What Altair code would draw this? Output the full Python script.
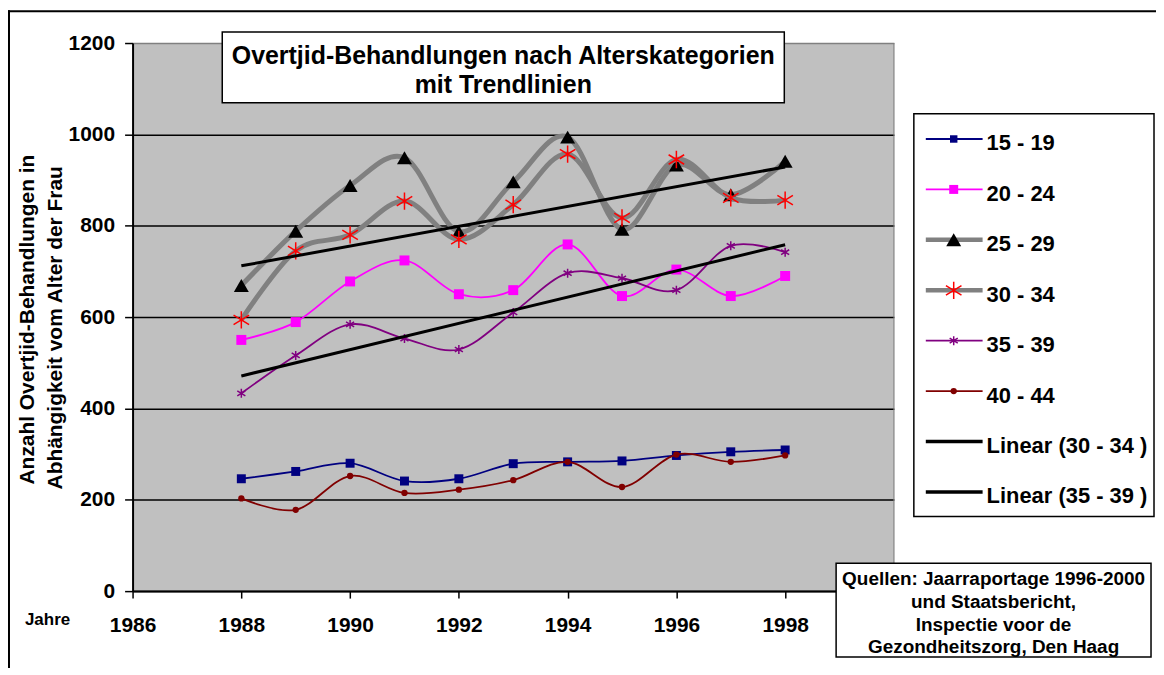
import altair as alt
import pandas as pd

# ---------------- data ----------------
years = [1988, 1989, 1990, 1991, 1992, 1993, 1994, 1995, 1996, 1997, 1998]
s15_19 = [246, 262, 280, 241, 246, 279, 283, 285, 297, 305, 309]
s20_24 = [550, 589, 678, 724, 650, 659, 759, 646, 704, 646, 690]
s25_29 = [669, 788, 888, 949, 787, 896, 994, 792, 933, 868, 941]
s30_34 = [594, 745, 780, 854, 770, 846, 957, 817, 945, 861, 856]
s35_39 = [433, 516, 584, 553, 529, 610, 696, 685, 659, 756, 742]
s40_44 = [203, 178, 252, 215, 222, 243, 283, 228, 299, 283, 297]

series_names = ["15 - 19", "20 - 24", "25 - 29", "30 - 34", "35 - 39", "40 - 44"]
series_values = [s15_19, s20_24, s25_29, s30_34, s35_39, s40_44]
trend_series = ["30 - 34", "35 - 39"]
trend_names = ["Linear (30 - 34 )", "Linear (35 - 39 )"]

x_ticks = [1986, 1988, 1990, 1992, 1994, 1996, 1998]
y_ticks = [0, 200, 400, 600, 800, 1000, 1200]

title_lines = ["Overtjid-Behandlungen nach Alterskategorien", "mit Trendlinien"]
y_title_lines = ["Anzahl Overtjid-Behandlungen in", "Abhängigkeit vom Alter der Frau"]
x_title = "Jahre"
source_lines = ["Quellen: Jaarraportage 1996-2000", "und Staatsbericht,",
                "Inspectie voor de", "Gezondheitszorg, Den Haag"]

rows = []
for name, vals in zip(series_names, series_values):
    for yr, v in zip(years, vals):
        rows.append({"series": name, "year": yr, "value": v})
df = pd.DataFrame(rows)

# ---------------- styles ----------------
F = "Liberation Sans, Arial, Helvetica, sans-serif"
STAR = "M-0.9,-0.55L0.9,0.55M-0.9,0.55L0.9,-0.55M0,-1L0,1"
styles = {
    "15 - 19": dict(line="#000080", lw=1.8, shape="square", size=81, lsize=56, filled=True, mcolor="#000080"),
    "20 - 24": dict(line="#FF00FF", lw=1.8, shape="square", size=100, lsize=81, filled=True, mcolor="#FF00FF"),
    "25 - 29": dict(line="#808080", lw=5, shape="triangle-up", size=225, lsize=225, filled=True, mcolor="black"),
    "30 - 34": dict(line="#808080", lw=5, shape=STAR, size=300, lsize=300, filled=False, mcolor="#FF0000"),
    "35 - 39": dict(line="#800080", lw=1.8, shape=STAR, size=81, lsize=81, filled=False, mcolor="#800080"),
    "40 - 44": dict(line="#800000", lw=1.8, shape="circle", size=40, lsize=40, filled=True, mcolor="#800000"),
}

xscale = alt.Scale(domain=[1986, 2000], nice=False, zero=False)
yscale = alt.Scale(domain=[0, 1200], nice=False)

x_axis = alt.Axis(values=x_ticks, title=None, grid=False, format="d",
                  domainColor="black", domainWidth=2, tickColor="black",
                  tickSize=7, tickWidth=1.5, labelFont=F, labelFontSize=21,
                  labelFontWeight="bold", labelColor="black", labelPadding=17,
                  labelFlush=False, labelOverlap=False)
y_axis = alt.Axis(values=y_ticks, title=None, grid=True, format="d",
                  gridColor={"condition": {"test": "datum.value === 1200", "value": "#808080"},
                             "value": "black"},
                  gridWidth=1.5, domainColor="black", domainWidth=2,
                  tickColor="black", tickSize=8, tickWidth=1.5, labelFont=F,
                  labelFontSize=21, labelFontWeight="bold", labelColor="black",
                  labelPadding=10, labelOverlap=False)

X = alt.X("year:Q", scale=xscale, axis=x_axis)
Y = alt.Y("value:Q", scale=yscale, axis=y_axis)

base = alt.Chart(df)
data_layers = []
# right border of plot area (gray)
data_layers.append(
    alt.Chart(pd.DataFrame({"year": [2000]})).mark_rule(color="#808080", strokeWidth=1)
    .encode(x=alt.X("year:Q", scale=xscale, axis=x_axis))
)
for name in series_names:
    st = styles[name]
    sub = base.transform_filter(alt.datum.series == name)
    data_layers.append(
        sub.mark_line(interpolate="cardinal", color=st["line"], strokeWidth=st["lw"])
        .encode(x=X, y=Y)
    )
    data_layers.append(
        sub.mark_point(shape=st["shape"], size=st["size"], filled=st["filled"],
                       color=st["mcolor"], opacity=1, strokeWidth=1.5)
        .encode(x=X, y=Y)
    )
for name in trend_series:
    data_layers.append(
        base.transform_filter(alt.datum.series == name)
        .transform_regression("year", "value", method="linear", extent=[1988, 1998])
        .mark_line(color="black", strokeWidth=3)
        .encode(x=X, y=Y)
    )

data_group = alt.layer(*data_layers)

# ---------------- decorations ----------------
one = alt.Chart(pd.DataFrame({"k": [0]}))
deco = []
# outer frame: left and top edges
deco.append(one.mark_rule(color="black", strokeWidth=2).encode(
    x=alt.value(-125), x2=alt.value(1027), y=alt.value(-32)))
deco.append(one.mark_rule(color="black", strokeWidth=2).encode(
    x=alt.value(-124), y=alt.value(-33), y2=alt.value(700)))
# title box
deco.append(one.mark_rect(fill="white", stroke="black", strokeWidth=1.5).encode(
    x=alt.value(90), x2=alt.value(654), y=alt.value(-11), y2=alt.value(60)))
for t, yy in zip(title_lines, [21, 50]):
    deco.append(one.mark_text(font=F, fontSize=25, fontWeight="bold", color="black",
                              align="center", baseline="alphabetic").encode(
        x=alt.value(372), y=alt.value(yy), text=alt.value(t)))
# y title (rotated, two lines)
for t, xx, yy in zip(y_title_lines, [-99, -71], [443, 448]):
    deco.append(one.mark_text(font=F, fontSize=21, fontWeight="bold", color="black",
                              align="left", baseline="alphabetic", angle=270).encode(
        x=alt.value(xx), y=alt.value(yy), text=alt.value(t)))
# x title
deco.append(one.mark_text(font=F, fontSize=17, fontWeight="bold", color="black",
                          align="left", baseline="alphabetic").encode(
    x=alt.value(-108), y=alt.value(584), text=alt.value(x_title)))
# source box
deco.append(one.mark_rect(fill="white", stroke="black", strokeWidth=1.5).encode(
    x=alt.value(706), x2=alt.value(1022), y=alt.value(522), y2=alt.value(616)))
for t, yy in zip(source_lines, [544, 567, 590, 612]):
    deco.append(one.mark_text(font=F, fontSize=19, fontWeight="bold", color="black",
                              align="center", baseline="alphabetic").encode(
        x=alt.value(864), y=alt.value(yy), text=alt.value(t)))

# legend
legend_labels = series_names + trend_names
legend_df = pd.DataFrame({"label": legend_labels, "row": list(range(len(legend_labels)))})
lg = alt.Chart(legend_df)
RY = alt.Y("row:Q", scale=alt.Scale(domain=[0, 7], range=[96.3, 450.5]), axis=None)
deco.append(one.mark_rect(fill="white", stroke="black", strokeWidth=1.5).encode(
    x=alt.value(784), x2=alt.value(1025), y=alt.value(71), y2=alt.value(475)))
for name in series_names:
    st = styles[name]
    sub = lg.transform_filter(alt.datum.label == name)
    deco.append(sub.mark_rule(color=st["line"], strokeWidth=min(st["lw"], 4.5)).encode(
        x=alt.value(796), x2=alt.value(853), y=RY))
    deco.append(sub.mark_point(shape=st["shape"], size=st["lsize"], filled=st["filled"],
                               color=st["mcolor"], opacity=1, strokeWidth=1.5).encode(
        x=alt.value(824), y=RY))
for name in trend_names:
    sub = lg.transform_filter(alt.datum.label == name)
    deco.append(sub.mark_rule(color="black", strokeWidth=3.5).encode(
        x=alt.value(796), x2=alt.value(853), y=RY))
deco.append(lg.mark_text(font=F, fontSize=22, fontWeight="bold", color="black",
                         align="left", baseline="alphabetic", dy=11.5).encode(
    x=alt.value(857), y=RY, text="label:N"))

deco_group = alt.layer(*deco)

chart = (
    alt.layer(data_group, deco_group)
    .resolve_scale(y="independent")
    .properties(width=764, height=550,
                padding={"left": 125, "top": 34, "right": 263, "bottom": 76},
                autosize=alt.AutoSizeParams(type="none"))
    .configure(background="white")
    .configure_view(fill="#C0C0C0", stroke="transparent")
)

chart.save("out.html", embed_options={"renderer": "svg", "actions": False})
